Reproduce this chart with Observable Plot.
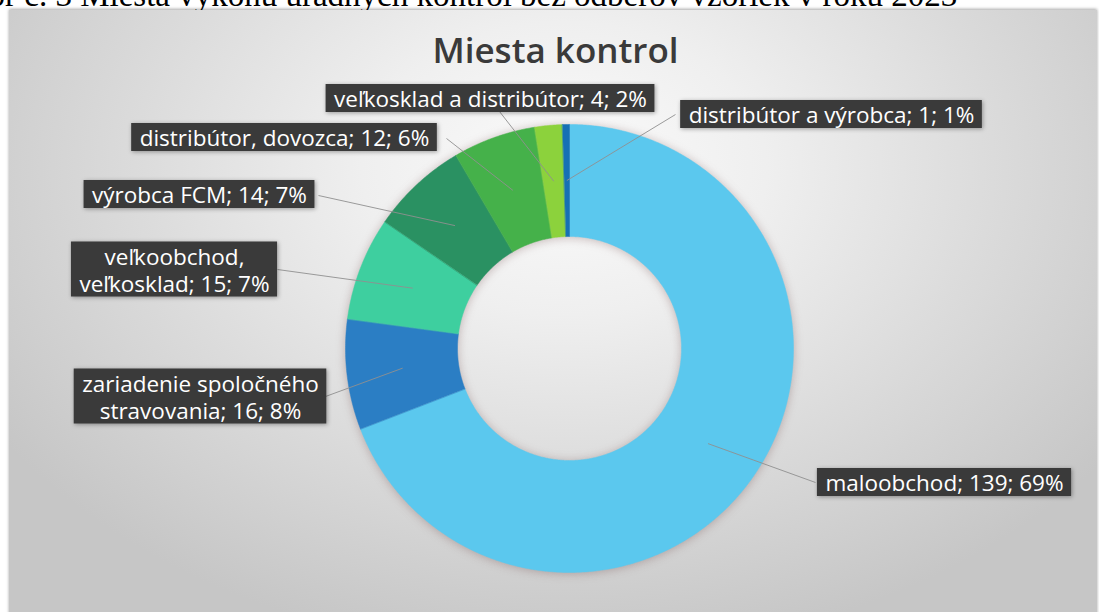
<!DOCTYPE html>
<html><head><meta charset="utf-8">
<script src="https://cdn.jsdelivr.net/npm/d3@7"></script>
<script src="https://cdn.jsdelivr.net/npm/@observablehq/plot@0.6"></script>
<style>
html,body{margin:0;padding:0;background:#fff;}
#wrap{position:relative;width:1099px;height:612px;overflow:hidden;}
#panel{position:absolute;left:9px;top:10px;width:1088px;height:610px;
 background:radial-gradient(ellipse 62% 80% at 51% 26%, #fbfbfb 0%, #efefef 30%, #dcdcdc 62%, #c6c6c6 100%);
 box-shadow:0 -1px 3px rgba(0,0,0,.35);}
#caption{position:absolute;top:-21px;left:0;font-family:"Liberation Serif";font-size:33px;white-space:nowrap;color:#000;line-height:1;}
#chart{position:absolute;left:0;top:0;}
</style></head>
<body><div id="wrap"><div id="caption"></div><div id="panel"></div><div id="chart"></div></div>
<script>
// ---- data ----
const categories = ["maloobchod","zariadenie spoločného stravovania","veľkoobchod, veľkosklad","výrobca FCM","distribútor, dovozca","veľkosklad a distribútor","distribútor a výrobca"];
const labelNames = ["maloobchod","zariadenie spoločného\nstravovania","veľkoobchod,\nveľkosklad","výrobca FCM","distribútor, dovozca","veľkosklad a distribútor","distribútor a výrobca"];
const counts = [139,16,15,14,12,4,1];
const percents = ["69%","8%","7%","7%","6%","2%","1%"];
const colors = ["#5bc8ee","#2b7ec4","#3ecf9f","#2a9162","#45b14a","#8cd23c","#1670b4"];
const chartTitle = "Miesta kontrol";
const captionText = "Obr č. 3 Miesta výkonu úradných kontrol bez odberov vzoriek v roku 2023";

// ---- layout ----
const W = 1099, H = 612;
const CX = 569, CY = 348, R_OUT = 224, R_IN = 112, R_LEAD = 168;
const labelCenter = [[944,482],[200,396],[174,269],[199,194],[284,137],[490,98],[831,114]];
const lineStart = [[815,482],[325,396],[277,269],[318,195],[446,138],[499,111],[675,114]];
const FONT = "Open Sans", FS = 22.5, LINE = 27;

// caption (partly cut off at the top-left, as in the source page)
const cap = document.getElementById("caption");
cap.textContent = captionText;
const cv = document.createElement("canvas").getContext("2d");
cv.font = "33px 'Liberation Serif'";
cap.style.left = (-(cv.measureText("Ob").width - 5)) + "px";

// slices as closed polygons: outer arc forward, inner arc backward
const arcs = d3.pie().sort(null).value(d => d)(counts);
const ring = [];
arcs.forEach((a, i) => {
  const n = Math.max(2, Math.ceil((a.endAngle - a.startAngle) / 0.008));
  for (let k = 0; k <= n; k++) {
    const t = a.startAngle + (a.endAngle - a.startAngle) * k / n;
    ring.push({cat: categories[i], x: CX + R_OUT * Math.sin(t), y: CY - R_OUT * Math.cos(t)});
  }
  for (let k = n; k >= 0; k--) {
    const t = a.startAngle + (a.endAngle - a.startAngle) * k / n;
    ring.push({cat: categories[i], x: CX + R_IN * Math.sin(t), y: CY - R_IN * Math.cos(t)});
  }
});
const leaders = arcs.map((a, i) => {
  const m = (a.startAngle + a.endAngle) / 2;
  return {x1: lineStart[i][0], y1: lineStart[i][1], x2: CX + R_LEAD * Math.sin(m), y2: CY - R_LEAD * Math.cos(m)};
});
cv.font = `500 ${FS}px '${FONT}'`;
const boxes = categories.map((c, i) => {
  const label = `${labelNames[i]}; ${counts[i]}; ${percents[i]}`;
  const lines = label.split("\n");
  const w = d3.max(lines, l => cv.measureText(l).width);
  const h = lines.length * LINE + 1;
  const [cx, cy] = labelCenter[i];
  return {label, cx, cy, x1: cx - w / 2 - 8, x2: cx + w / 2 + 8, y1: cy - h / 2, y2: cy + h / 2};
});

const chart = Plot.plot({
  width: W, height: H, margin: 0,
  x: {domain: [0, W], range: [0, W], axis: null},
  y: {domain: [0, H], range: [0, H], axis: null},
  color: {domain: categories, range: colors},
  style: {background: "transparent", overflow: "visible"},
  marks: [
    Plot.line(ring, {x: "x", y: "y", z: "cat", fill: "cat", stroke: "cat", strokeWidth: 0.5, curve: "linear-closed"}),
    Plot.link(leaders, {x1: "x1", y1: "y1", x2: "x2", y2: "y2", stroke: "#909090", strokeWidth: 0.9}),
    Plot.rect(boxes, {x1: "x1", x2: "x2", y1: "y1", y2: "y2", fill: "#3a3a3a"}),
    Plot.text(boxes, {x: "cx", y: "cy", text: "label", fill: "white", fontSize: FS, fontWeight: 500, fontFamily: FONT, lineHeight: LINE / FS, textAnchor: "middle", lineAnchor: "middle"}),
    Plot.text([chartTitle], {x: () => 555, y: () => 51, text: d => d, fill: "#3a3a3a", fontSize: 35, fontWeight: 600, fontFamily: FONT, textAnchor: "middle", lineAnchor: "middle"})
  ]
});
chart.querySelectorAll("g[aria-label]").forEach(g => {
  const l = g.getAttribute("aria-label");
  if (l === "line") g.style.filter = "drop-shadow(0 1px 5px rgba(110,70,70,.35))";
  if (l === "rect") g.style.filter = "drop-shadow(1px 1px 2px rgba(0,0,0,.35))";
});
document.getElementById("chart").appendChild(chart);
</script>
</body></html>
